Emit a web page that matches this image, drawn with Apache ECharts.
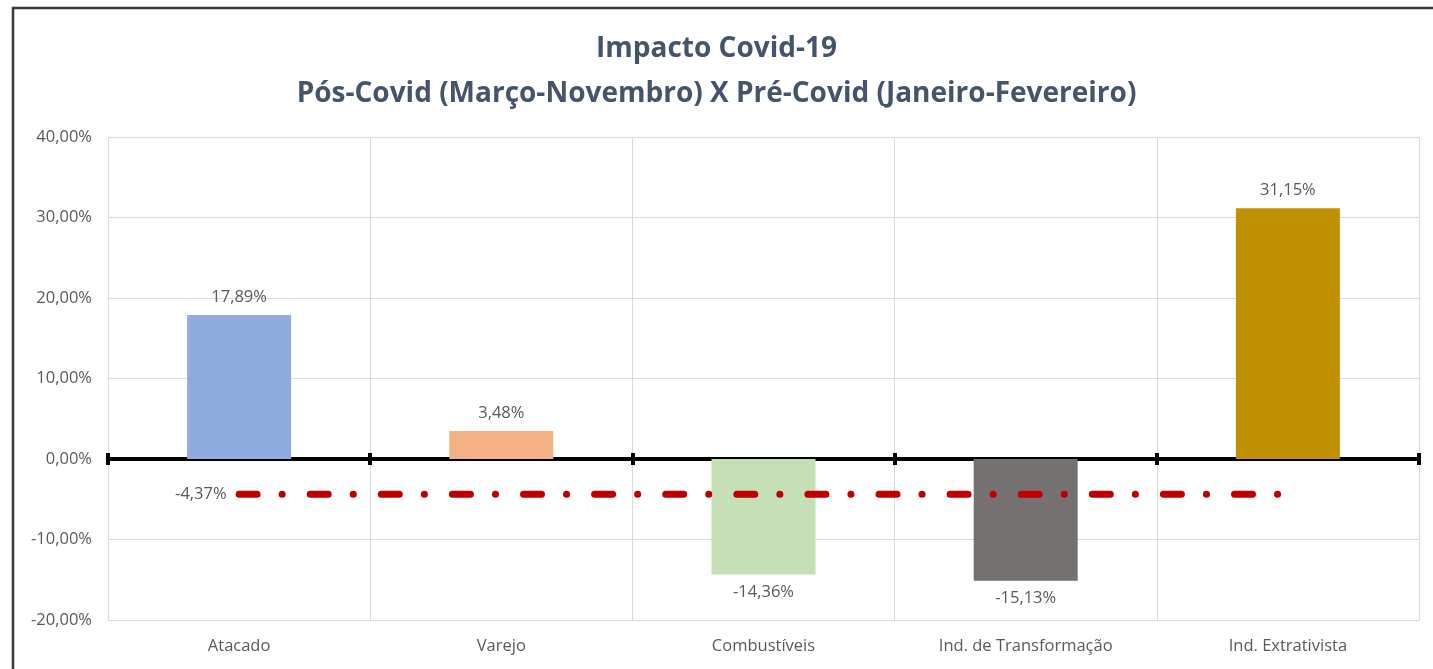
<!DOCTYPE html>
<html>
<head>
<meta charset="utf-8">
<script src="https://cdn.jsdelivr.net/npm/echarts@6/dist/echarts.min.js"></script>
<style>
  html, body { margin: 0; padding: 0; background: #fff; }
  #main { width: 1433px; height: 669px; }
</style>
</head>
<body>
<div id="main"></div>
<script>
// data
var categories = ['Atacado', 'Varejo', 'Combustíveis', 'Ind. de Transformação', 'Ind. Extrativista'];
var impact = [17.89, 3.48, -14.36, -15.13, 31.15];
var barColors = ['#8faadc', '#f4b183', '#c5e0b4', '#767171', '#bf9000'];
var average = [-4.37, -4.37, -4.37, -4.37, -4.37];
var yMin = -20, yMax = 40, yStep = 10;

var font = 'Open Sans';
var grey = '#595959';
var labelSize = 16.5;

function pct(v) {
    return v.toFixed(2).replace('.', ',') + '%';
}

var chartDom = document.getElementById('main');
var myChart = echarts.init(chartDom);

var barData = impact.map(function (v, i) {
    return {
        value: v,
        itemStyle: { color: barColors[i] },
        label: { position: v < 0 ? 'bottom' : 'top' }
    };
});

var avgData = average.map(function (v, i) {
    return {
        value: v,
        label: { show: i === 0 }
    };
});

// axis line at zero, ticks drawn on both sides of it
function zeroAxis(pos, inside) {
    return {
        type: 'category',
        data: categories,
        position: pos,
        axisLine: { show: true, onZero: true, onZeroAxisIndex: 0, lineStyle: { color: '#000', width: 4 } },
        axisTick: { show: true, inside: inside, length: 6, lineStyle: { color: '#000', width: 4 } },
        axisLabel: { show: false },
        splitLine: { show: false }
    };
}

var option = {
    animation: false,
    textStyle: { fontFamily: font },
    graphic: [{
        type: 'rect',
        shape: { x: 13, y: 8, width: 1450, height: 700 },
        style: { fill: null, stroke: '#3a3a3a', lineWidth: 2.5 },
        silent: true
    }],
    title: {
        left: 'center',
        top: 22,
        text: 'Impacto Covid-19\nPós-Covid (Março-Novembro) X Pré-Covid (Janeiro-Fevereiro)',
        textStyle: {
            fontFamily: font,
            fontSize: 28,
            fontWeight: 'bold',
            color: '#44546a',
            lineHeight: 45
        }
    },
    grid: {
        left: 108,
        right: 14,
        top: 137,
        bottom: 49
    },
    xAxis: [
        {
            type: 'category',
            data: categories,
            position: 'bottom',
            axisLine: { show: true, onZero: false, lineStyle: { color: '#d9d9d9', width: 1 } },
            axisTick: { show: false },
            axisLabel: { color: grey, fontSize: labelSize, margin: 18, fontFamily: font },
            splitLine: { show: true, lineStyle: { color: '#d9d9d9', width: 1 } }
        },
        zeroAxis('top', false),
        zeroAxis('top', true)
    ],
    yAxis: {
        type: 'value',
        min: yMin,
        max: yMax,
        interval: yStep,
        axisLine: { show: false },
        axisTick: { show: false },
        axisLabel: {
            color: grey,
            fontSize: labelSize,
            margin: 16,
            fontFamily: font,
            formatter: pct
        },
        splitLine: { lineStyle: { color: '#d9d9d9', width: 1 } }
    },
    series: [
        {
            name: 'Impacto',
            type: 'bar',
            xAxisIndex: 0,
            barWidth: 104,
            data: barData,
            label: {
                show: true,
                distance: 9,
                color: grey,
                fontSize: labelSize,
                fontFamily: font,
                formatter: function (p) { return pct(p.value); }
            },
            z: 1
        },
        {
            name: 'Média',
            type: 'line',
            xAxisIndex: 0,
            data: avgData,
            symbol: 'circle',
            symbolSize: 1,
            showSymbol: true,
            itemStyle: { color: 'rgba(0,0,0,0)' },
            lineStyle: {
                color: '#c00000',
                width: 7,
                type: [18, 25, 0.1, 28],
                cap: 'round'
            },
            label: {
                position: 'left',
                distance: 12,
                color: grey,
                fontSize: labelSize,
                fontFamily: font,
                formatter: function (p) { return pct(p.value); }
            },
            z: 3
        }
    ]
};

option && myChart.setOption(option);
</script>
</body>
</html>
